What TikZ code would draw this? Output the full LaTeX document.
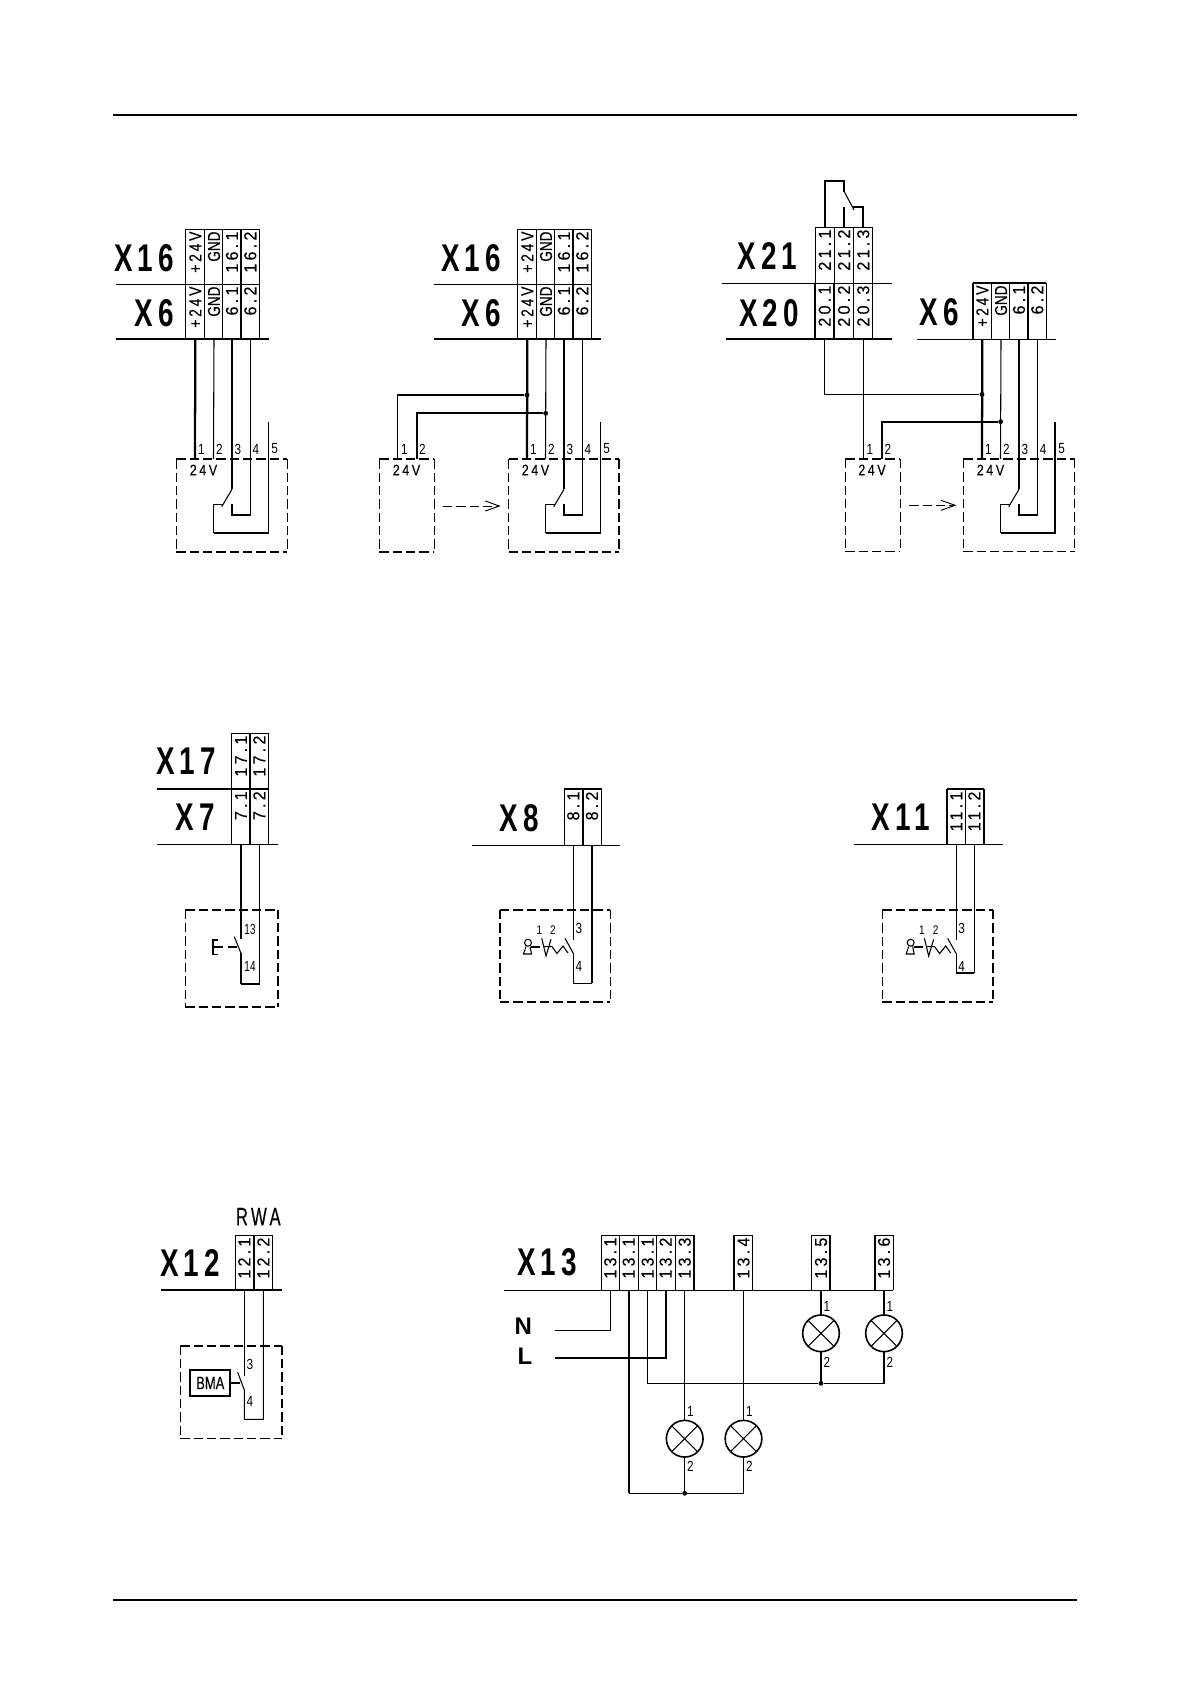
\documentclass[tikz,border=0pt]{standalone}
\usepackage{fontspec}
\usepackage{graphicx}
\setmainfont{Liberation Sans}
\newfontfamily\spacedf[LetterSpace=20,FakeBold=.25]{Liberation Sans}
\newfontfamily\plainf[FakeBold=.25]{Liberation Sans}
\newfontfamily\bigf[LetterSpace=18]{Liberation Sans Bold}
\newcommand{\bl}[1]{\scalebox{.72}[1]{\fontsize{29}{29}\bigf #1}}
\newcommand{\ct}[1]{\scalebox{.93}[1]{\fontsize{13}{13}\spacedf #1}}
\newcommand{\ctp}[1]{\scalebox{.8}[1]{\fontsize{13}{13}\spacedf #1}}
\newcommand{\ctg}[1]{\scalebox{.78}[1]{\fontsize{13}{13}\plainf #1}}
\newcommand{\sm}[1]{\scalebox{.8}[1]{\fontsize{11}{11}\selectfont #1}}
\newcommand{\smn}[1]{\scalebox{.68}[1]{\fontsize{11}{11}\selectfont #1}}
\newcommand{\volt}[1]{\scalebox{.82}[1]{\fontsize{11.5}{11.5}\spacedf #1}}
\newcommand{\tm}[6][]{\node[celltxt,#1] (#2) at (#3,#4+2) {#6};
  \coordinate (#2-b) at (#3,#5); \coordinate (#2-t) at (#3,#4);}
\newcommand{\dbox}[8]{%
  \draw[dash pattern=on 7pt off 3pt,line width=#5pt] (#1,#2) -- (#1,#4);
  \draw[dash pattern=on 7pt off 3pt,line width=#6pt] (#1,#2) -- (#3,#2);
  \draw[dash pattern=on 7pt off 3pt,line width=#7pt] (#3,#2) -- (#3,#4);
  \draw[dash pattern=on 7pt off 3pt,line width=#8pt] (#1,#4) -- (#3,#4);}
\tikzset{
  tw/.style={line width=.8pt},
  hw/.style={line width=1.7pt},
  celltxt/.style={rotate=90,anchor=east,inner sep=0pt},
  biglab/.style={anchor=east,inner sep=0pt},
  smlab/.style={inner sep=0pt},
  jdot/.style={circle,fill=black,inner sep=0pt,minimum size=3.6pt},
  lamp/.style={circle,draw,line width=1.2pt,inner sep=0pt,minimum size=27.5pt,
    path picture={\draw[line width=.8pt] (path picture bounding box.north west) -- (path picture bounding box.south east)
      (path picture bounding box.north east) -- (path picture bounding box.south west);}},
  dashline/.style={line width=.7pt,dash pattern=on 7pt off 3pt},
  barb/.style={line width=.7pt}
}
\newcommand{\arrowto}[2]{%
  \draw[dashline] (#1) -- (#2);
  \draw[barb] (#2) ++(-14,-5) -- (#2) -- ++(-14,5);}
\newcommand{\ctrlunit}[1]{%
  \node[smlab] (n1) at (201.5,449) {\sm{1}};
  \node[smlab] (n2) at (219.3,449) {\sm{2}};
  \node[smlab] (n3) at (238,449) {\sm{3}};
  \node[smlab] (n4) at (256,449) {\sm{4}};
  \node[smlab] (n5) at (274.7,449) {\sm{5}};
  \node[smlab] (v24) at (203.5,470) {\volt{24V}};
  \coordinate (top5) at (268.3,422);
  \coordinate (sw) at (232,489.3);
  \coordinate (swe) at (221.7,506.7);
  \draw[hw] (p1-b) -- (195,459);
  \draw[tw] (p2-b) -- (213.5,459);
  \draw[hw] (p3-b) -- (sw);
  \draw[tw] (sw) -- (swe);
  \draw[tw] (p4-b) -- (250.3,515) -- (231.5,515);
  \draw[hw] (232,515.5) -- (232,504);
  \draw[tw] (222.7,504.3) -- (213.5,504.3) -- (213.5,533);
  \draw[#1] (213.5,533) -- (268.3,533) -- (top5);
}
\newcommand{\keysym}{%
  \node[draw,circle,line width=.8pt,inner sep=0pt,minimum size=5.2pt] (head) at (528,942.7) {};
  \draw[line width=.8pt] (526,946.5) -- (523.5,954) -- (531.5,954) -- (530,946.5);
  \draw[hw] (531,946.7) -- (540,946.7);
  \draw[tw] (541.7,938.3) -- (546,956) -- (551,939.3);
  \draw[tw] (544,946.7) -- (552,946.7) -- (557,953.5) -- (563,946) -- (568,953);
  \draw[tw] (565,938.3) -- (573.3,953.3);
  \node[smlab] (k1) at (539.3,930) {\scalebox{.85}{\sm{1}}};
  \node[smlab] (k2) at (553,930) {\scalebox{.85}{\sm{2}}};
  \node[smlab] (k3) at (579,928.7) {\sm{3}};
  \node[smlab] (k4) at (579,966) {\sm{4}};
}
\newcommand{\xsixgroup}[2]{%
  \node[biglab] (x16) at (#2,258.6) {\bl{X16}};
  \node[biglab] (x6) at (#2,313) {\bl{X6}};
  \draw[tw] (185.3,229.3) -- (259.3,229.3);
  \foreach \cx in {185.3,204.7,222.7,259.3} \draw[tw] (\cx,229.3) -- (\cx,339.3);
  \draw[hw] (241.3,229.3) -- (241.3,339.3);
  \draw[tw] (#1,284.3) -- (259.3,284.3);
  \draw[hw] (#1,339.3) -- (269,339.3);
  \tm{q1}{195.3}{229.3}{339.3}{\ctp{+24V}}
  \tm{q2}{214}{229.3}{339.3}{\ctg{GND}}
  \tm{q3}{232}{229.3}{339.3}{\ct{16.1}}
  \tm{q4}{250.3}{229.3}{339.3}{\ct{16.2}}
  \tm{p1}{195.3}{284.3}{339.3}{\ctp{+24V}}
  \tm{p2}{214}{284.3}{339.3}{\ctg{GND}}
  \tm{p3}{232}{284.3}{339.3}{\ct{6.1}}
  \tm{p4}{250.3}{284.3}{339.3}{\ct{6.2}}
}
\begin{document}
\begin{tikzpicture}[x=.75pt,y=-.75pt]
\useasboundingbox (0,0) rectangle (1191,1685);
\fill[white] (0,0) rectangle (1191,1685);
\coordinate (pt1) at (113,114.7); \coordinate (pt2) at (1077,114.7);
\coordinate (pb1) at (113,1600); \coordinate (pb2) at (1077,1600);
\draw[line width=1.5pt] (pt1) -- (pt2);
\draw[line width=1.5pt] (pb1) -- (pb2);
%% group 1
\begin{scope}[name prefix=a-]
  \xsixgroup{116}{174}
  \ctrlunit{tw}
  \dbox{176.3}{459.3}{287.3}{551.7}{.8}{1.7}{.9}{1.7}
\end{scope}
%% group 2
\begin{scope}[name prefix=b-,xshift=249pt]
  \xsixgroup{102}{169}
  \ctrlunit{tw}
  \dbox{176.7}{459.3}{287.3}{551.7}{.9}{1.7}{1.7}{1.7}
  \node[jdot] (d1) at (195,395) {};
  \node[jdot] (d2) at (213.7,413.3) {};
  \coordinate (w1) at (65.7,459);
  \coordinate (w2) at (84.7,459);
  \draw[line width=1.1pt] (d1) -| (w1);
  \draw[hw] (d2) -| (w2);
  \node[smlab] (m1) at (72.5,449) {\sm{1}};
  \node[smlab] (m2) at (90.5,449) {\sm{2}};
  \node[smlab] (v) at (74.5,470) {\volt{24V}};
  \dbox{47.3}{459.3}{102.3}{551.7}{.9}{1.7}{.9}{1.7}
  \coordinate (ar1) at (111,506); \coordinate (ar2) at (167.3,506);
  \arrowto{ar1}{ar2}
\end{scope}
%% group 3, X21 / X20
\begin{scope}[name prefix=c-]
  \node[biglab] (x21) at (797.5,256) {\bl{X21}};
  \node[biglab] (x20) at (799,312.7) {\bl{X20}};
  \draw[tw] (815.3,227.3) -- (872.7,227.3);
  \foreach \cx in {815.3,834.3,853.7,872.7} \draw[tw] (\cx,227.3) -- (\cx,283.3);
  \foreach \cx in {853.7,872.7} \draw[tw] (\cx,283.3) -- (\cx,339.3);
  \foreach \cx in {815.3,834.3} \draw[hw] (\cx,283.3) -- (\cx,339.3);
  \draw[tw] (722.3,283.3) -- (891.7,283.3);
  \draw[hw] (726,339.3) -- (891.7,339.3);
  \tm{r1}{824.7}{227.3}{339.3}{\ct{21.1}}
  \tm{r2}{844}{227.3}{339.3}{\ct{21.2}}
  \tm{r3}{863.3}{227.3}{339.3}{\ct{21.3}}
  \tm{s1}{824.7}{283.3}{339.3}{\ct{20.1}}
  \tm{s2}{844}{283.3}{339.3}{\ct{20.2}}
  \tm{s3}{863.3}{283.3}{339.3}{\ct{20.3}}
  \coordinate (c1) at (844.3,180.7);
  \coordinate (c2) at (844.3,191.7);
  \coordinate (c3) at (854,210);
  \coordinate (c4) at (851.7,206.7);
  \draw[hw] (r1-t) |- (c1) -- (c2);
  \draw[tw] (c2) -- (c3);
  \draw[hw] (r2-t) -- (844,206.7);
  \draw[hw] (r3-t) |- (c4);
  \node[biglab] (x6) at (959,312) {\bl{X6}};
  \draw[hw] (972.7,283.3) -- (1046.3,283.3);
  \foreach \cx in {991.7,1009.7,1046.3} \draw[tw] (\cx,283.3) -- (\cx,339.3);
  \foreach \cx in {972.7,1028.3} \draw[hw] (\cx,283.3) -- (\cx,339.3);
  \draw[tw] (917,339.3) -- (1056.3,339.3);
\end{scope}
\begin{scope}[name prefix=c-,xshift=590.25pt]
  \tm{p1}{195.3}{283.3}{339.3}{\ctp{+24V}}
  \tm{p2}{214}{283.3}{339.3}{\ctg{GND}}
  \tm{p3}{232}{283.3}{339.3}{\ct{6.1}}
  \tm{p4}{250.3}{283.3}{339.3}{\ct{6.2}}
  \ctrlunit{hw}
  \dbox{176.3}{459}{287.7}{551.3}{.8}{.8}{.8}{.8}
  \node[jdot] (d1) at (195,394.3) {};
  \node[jdot] (d2) at (213.7,421.7) {};
\end{scope}
\begin{scope}[name prefix=c-]
  \coordinate (w1) at (863.3,459);
  \coordinate (w2) at (882.3,459);
  \draw[tw] (s3-b) -- (w1);
  \draw[line width=1.1pt] (d1) -| (s1-b);
  \draw[hw] (d2) -| (w2);
  \node[smlab] (m1) at (870,449) {\sm{1}};
  \node[smlab] (m2) at (888,449) {\sm{2}};
  \node[smlab] (v) at (872,470) {\volt{24V}};
  \dbox{845.3}{459}{900.3}{551.3}{.8}{.8}{.8}{.8}
  \coordinate (ar1) at (909.3,505.3); \coordinate (ar2) at (955,505.3);
  \arrowto{ar1}{ar2}
\end{scope}
%% X17 / X7
\begin{scope}[name prefix=e-]
  \node[biglab] (x17) at (216,761) {\bl{X17}};
  \node[biglab] (x7) at (215,816.7) {\bl{X7}};
  \draw[tw] (231.3,733.3) -- (268.3,733.3);
  \foreach \cx in {231.3,268.3} \draw[tw] (\cx,733.3) -- (\cx,844.3);
  \draw[hw] (249.7,733.3) -- (249.7,844.3);
  \draw[hw] (157.3,789) -- (268.3,789);
  \draw[tw] (157.3,844.3) -- (278.3,844.3);
  \tm{t1}{241}{733.3}{844.3}{\ct{17.1}}
  \tm{t2}{259.3}{733.3}{844.3}{\ct{17.2}}
  \tm{u1}{241}{789}{844.3}{\ct{7.1}}
  \tm{u2}{259.3}{789}{844.3}{\ct{7.2}}
  \dbox{185.3}{909.7}{278}{1006.7}{1}{1.7}{1.7}{1.7}
  \coordinate (s1) at (241,939.3);
  \coordinate (s2) at (234.3,936.7);
  \coordinate (s3) at (241,953.3);
  \coordinate (s4) at (241,984);
  \draw[hw] (u1-b) -- (s1);
  \draw[tw] (s2) -- (s3);
  \draw[line width=1.2pt] (s3) -- (s4);
  \draw[hw] (s4) -- (260,984);
  \draw[tw] (u2-b) -- (259.3,984);
  \draw[tw] (217.7,940) -- (213,940) -- (213,954.3) -- (217.7,954.3);
  \draw[tw] (213,947) -- (222.7,947);
  \draw[line width=1.1pt] (227.7,947) -- (236.7,947);
  \node[smlab] (l13) at (250,929) {\smn{13}};
  \node[smlab] (l14) at (250,966) {\smn{14}};
\end{scope}
%% X8
\begin{scope}[name prefix=f-]
  \node[biglab] (x8) at (539,818) {\bl{X8}};
  \draw[hw] (564.3,789.3) -- (601.7,789.3);
  \foreach \cx in {564.3,601.7} \draw[tw] (\cx,789.3) -- (\cx,845.3);
  \draw[hw] (583,789.3) -- (583,845.3);
  \draw[tw] (472,845.3) -- (620,845.3);
  \tm{t1}{573.3}{789.3}{845.3}{\ct{8.1}}
  \tm{t2}{592}{789.3}{845.3}{\ct{8.2}}
  \dbox{500}{910}{610.3}{1002}{1.7}{1.7}{.8}{.8}
  \keysym
  \draw[tw] (t1-b) -- (573.3,940);
  \draw[tw] (573.3,953.3) -- (573.3,983.3) -- (592,983.3);
  \draw[hw] (t2-b) -- (592,983.3);
\end{scope}
%% X11
\begin{scope}[name prefix=g-]
  \node[biglab] (x11) at (930,816.7) {\bl{X11}};
  \draw[hw] (946.7,789.3) -- (984,789.3);
  \foreach \cx in {946.7,984} \draw[hw] (\cx,789.3) -- (\cx,844.3);
  \draw[tw] (965.3,789.3) -- (965.3,844.3);
  \draw[tw] (854,844.3) -- (1002.7,844.3);
  \tm{t1}{956.3}{789.3}{844.3}{\ct{11.1}}
  \tm{t2}{974.3}{789.3}{844.3}{\ct{11.2}}
  \dbox{882.3}{910}{993}{1002}{.8}{1.7}{1.7}{.8}
  \draw[tw] (t1-b) -- (956.3,940);
  \draw[tw] (956.3,953.3) -- (956.3,973) -- (974.3,973);
  \draw[tw] (t2-b) -- (974.3,973);
\end{scope}
\begin{scope}[name prefix=g-,xshift=287pt]
  \keysym
\end{scope}
%% X12
\begin{scope}[name prefix=h-]
  \node[smlab] (rwa) at (258.3,1216.7) {\scalebox{.66}[1]{\fontsize{19}{19}\spacedf RWA}};
  \node[biglab] (x12) at (220,1263) {\bl{X12}};
  \draw[tw] (235.3,1235.3) -- (272.7,1235.3);
  \foreach \cx in {235.3,272.7} \draw[tw] (\cx,1235.3) -- (\cx,1290.3);
  \draw[hw] (254,1235.3) -- (254,1290.3);
  \draw[hw] (161.3,1290.3) -- (282.3,1290.3);
  \tm{t1}{244.3}{1235.3}{1290.3}{\ct{12.1}}
  \tm{t2}{263.3}{1235.3}{1290.3}{\ct{12.2}}
  \dbox{180.3}{1345.7}{282.3}{1438.3}{.8}{1.3}{1.3}{.9}
  \node[draw,line width=1.3pt,minimum width=30pt,minimum height=19pt,inner sep=0pt] (bma) at (210.3,1383) {\scalebox{.72}[1]{\fontsize{13.5}{13.5}\plainf BMA}};
  \coordinate (s1) at (244.3,1375.7);
  \coordinate (s2) at (237.7,1372.3);
  \coordinate (s3) at (244.3,1390);
  \coordinate (s4) at (240,1383);
  \draw[tw] (t1-b) -- (s1);
  \draw[tw] (s2) -- (s3) -- (244.3,1419.3) -- (263.3,1419.3) -- (t2-b);
  \draw[line width=1.2pt] (bma) -- (s4);
  \node[smlab] (l3) at (250,1364.3) {\sm{3}};
  \node[smlab] (l4) at (250,1401.3) {\sm{4}};
\end{scope}
%% X13
\begin{scope}[name prefix=i-]
  \node[biglab] (x13) at (577,1262) {\bl{X13}};
  \draw[tw] (601.3,1235.3) -- (694,1235.3);
  \foreach \cx in {601.3,619.3,638.3,656.3,675.3,752.3,811.3,893.3} \draw[tw] (\cx,1235.3) -- (\cx,1290.3);
  \foreach \cx in {694,733.7,830,874.7} \draw[hw] (\cx,1235.3) -- (\cx,1290.3);
  \draw[tw] (733.7,1235.3) -- (752.3,1235.3) (811.3,1235.3) -- (830,1235.3) (874.7,1235.3) -- (893.3,1235.3);
  \draw[tw] (504,1290.3) -- (893.3,1290.3);
  \tm{a}{610.3}{1235.3}{1290.3}{\ct{13.1}}
  \tm{b}{628.7}{1235.3}{1290.3}{\ct{13.1}}
  \tm{c}{647.7}{1235.3}{1290.3}{\ct{13.1}}
  \tm{d}{665.7}{1235.3}{1290.3}{\ct{13.2}}
  \tm{e}{684.7}{1235.3}{1290.3}{\ct{13.3}}
  \tm{f}{743.5}{1235.3}{1290.3}{\ct{13.4}}
  \tm{g}{821}{1235.3}{1290.3}{\ct{13.5}}
  \tm{h}{884}{1235.3}{1290.3}{\ct{13.6}}
  \node[lamp] (l1) at (684.7,1438.7) {};
  \node[lamp] (l2) at (743.5,1438.7) {};
  \node[lamp] (l3) at (821,1333.3) {};
  \node[lamp] (l4) at (884,1333.3) {};
  \node[jdot] (d1) at (684.7,1493.3) {};
  \node[jdot] (d2) at (821,1383.3) {};
  \node[inner sep=0pt] (N) at (523.3,1326.7) {\fontsize{18}{18}\selectfont\bfseries N};
  \node[inner sep=0pt] (L) at (525,1356) {\fontsize{18}{18}\selectfont\bfseries L};
  \coordinate (nn) at (554.7,1330.3);
  \coordinate (ll) at (554.7,1357.7);
  \draw[tw] (a-b) |- (nn);
  \draw[hw] (d-b) |- (ll);
  \draw[hw] (b-b) -- (628.7,1493.3);
  \draw[tw] (628.7,1493.3) -- (d1);
  \draw[tw] (d1) -| (l2.south);
  \draw[tw] (l1) -- (d1);
  \draw[tw] (f-b) -- (l2);
  \draw[tw] (e-b) -- (l1);
  \draw[tw] (c-b) |- (d2);
  \draw[tw] (d2) -| (l4.south);
  \draw[tw] (h-b) -- (l4);
  \draw[hw] (g-b) -- (l3);
  \draw[hw] (l3) -- (d2);
  \node[smlab] (a1) at (690.3,1411.3) {\sm{1}};
  \node[smlab] (a2) at (690.3,1466.7) {\sm{2}};
  \node[smlab] (b1) at (749.3,1411.3) {\sm{1}};
  \node[smlab] (b2) at (749.3,1466.7) {\sm{2}};
  \node[smlab] (c1) at (827,1306.7) {\sm{1}};
  \node[smlab] (c2) at (827,1362.3) {\sm{2}};
  \node[smlab] (e1) at (890,1306.7) {\sm{1}};
  \node[smlab] (e2) at (890,1362.3) {\sm{2}};
\end{scope}
\end{tikzpicture}
\end{document}
